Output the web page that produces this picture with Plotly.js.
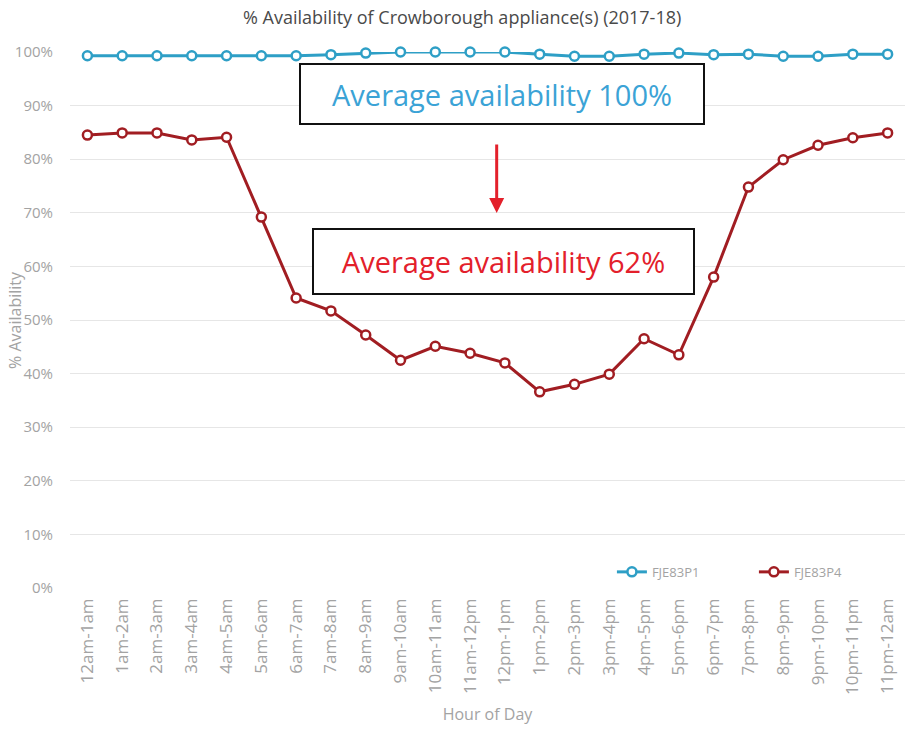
<!DOCTYPE html>
<html>
<head>
<meta charset="utf-8">
<script src="https://cdn.plot.ly/plotly-3.0.1.min.js"></script>
<style>html,body{margin:0;padding:0;background:#fff;}#chart{width:917px;height:740px;}</style>
</head>
<body>
<div id="chart"></div>
<script>
const hours = ["12am-1am","1am-2am","2am-3am","3am-4am","4am-5am","5am-6am","6am-7am","7am-8am","8am-9am","9am-10am","10am-11am","11am-12pm","12pm-1pm","1pm-2pm","2pm-3pm","3pm-4pm","4pm-5pm","5pm-6pm","6pm-7pm","7pm-8pm","8pm-9pm","9pm-10pm","10pm-11pm","11pm-12am"];
const fje83p1 = [99.3,99.3,99.3,99.3,99.3,99.3,99.3,99.5,99.8,100,100,100,100,99.6,99.2,99.2,99.6,99.8,99.5,99.6,99.2,99.2,99.6,99.6];
const fje83p4 = [84.5,84.9,84.9,83.6,84.1,69.2,54.1,51.7,47.2,42.5,45.1,43.8,42.0,36.6,38.0,39.9,46.5,43.5,58.0,74.8,79.9,82.6,84.0,84.9];
const seriesNames = ["FJE83P1","FJE83P4"];

const gray = "#a3a3a3";
const traces = [
  {x: hours, y: fje83p1, name: seriesNames[0], type: "scatter", mode: "lines+markers", cliponaxis: false,
   line: {color: "#2e9fc6", width: 3},
   marker: {symbol: "circle", size: 9, color: "#ffffff", line: {color: "#2e9fc6", width: 2.5}}},
  {x: hours, y: fje83p4, name: seriesNames[1], type: "scatter", mode: "lines+markers", cliponaxis: false,
   line: {color: "#a11d22", width: 3},
   marker: {symbol: "circle", size: 9, color: "#ffffff", line: {color: "#a11d22", width: 2.5}}}
];

const layout = {
  width: 917, height: 740,
  margin: {l: 70, r: 12, t: 52, b: 152},
  paper_bgcolor: "#ffffff", plot_bgcolor: "#ffffff",
  font: {family: "Open Sans, sans-serif", color: gray},
  showlegend: true,
  title: {text: "% Availability of Crowborough appliance(s) (2017-18)", x: 0.504, xanchor: "center", y: 0.976, yanchor: "middle",
          font: {size: 18, color: "#4a4a4a", family: "Open Sans, sans-serif"}},
  xaxis: {type: "category", range: [-0.5, 23.5], tickangle: -90, showgrid: false, zeroline: false, showline: false,
          ticks: "", tickfont: {size: 17, color: gray}, ticklabelstandoff: 6, automargin: false,
          title: {text: "Hour of Day", font: {size: 16, color: gray}, standoff: 14}},
  yaxis: {range: [0, 100], dtick: 10, ticksuffix: "%", showgrid: true, gridcolor: "#e6e6e6", gridwidth: 1,
          zeroline: false, showline: false, ticks: "", tickfont: {size: 15, color: gray}, ticklabelstandoff: 16, automargin: false},
  legend: {orientation: "h", x: 0.649, xanchor: "left", y: 0.03, yanchor: "middle", bgcolor: "rgba(0,0,0,0)",
           font: {size: 13, color: gray}, entrywidth: 97, entrywidthmode: "pixels"},
  annotations: [
    {xref: "paper", yref: "paper", x: -0.066, y: 0.5, xanchor: "center", yanchor: "middle", textangle: -90,
     text: "% Availability", showarrow: false, font: {size: 16, color: gray}},
    {xref: "paper", yref: "paper", x: 0.517, y: 0.9216, xanchor: "center", yanchor: "middle",
     text: "Average availability 100%", showarrow: false, width: 402, height: 58, borderpad: 0,
     bordercolor: "#111111", borderwidth: 2, bgcolor: "#ffffff",
     font: {size: 29, color: "#3ba3d6", family: "Open Sans, sans-serif"}},
    {xref: "paper", yref: "paper", x: 0.519, y: 0.609, xanchor: "center", yanchor: "middle",
     text: "Average availability 62%", showarrow: false, width: 379, height: 63, borderpad: 0,
     bordercolor: "#111111", borderwidth: 2, bgcolor: "#ffffff",
     font: {size: 29, color: "#e3202b", family: "Open Sans, sans-serif"}},
    {xref: "paper", yref: "paper", x: 0.511, y: 0.6996, text: "", showarrow: true, ax: 0, ay: -70,
     arrowcolor: "#e3202b", arrowwidth: 3, arrowhead: 2, arrowsize: 1}
  ]
};

Plotly.newPlot("chart", traces, layout, {displayModeBar: false, staticPlot: true});
</script>
</body>
</html>
